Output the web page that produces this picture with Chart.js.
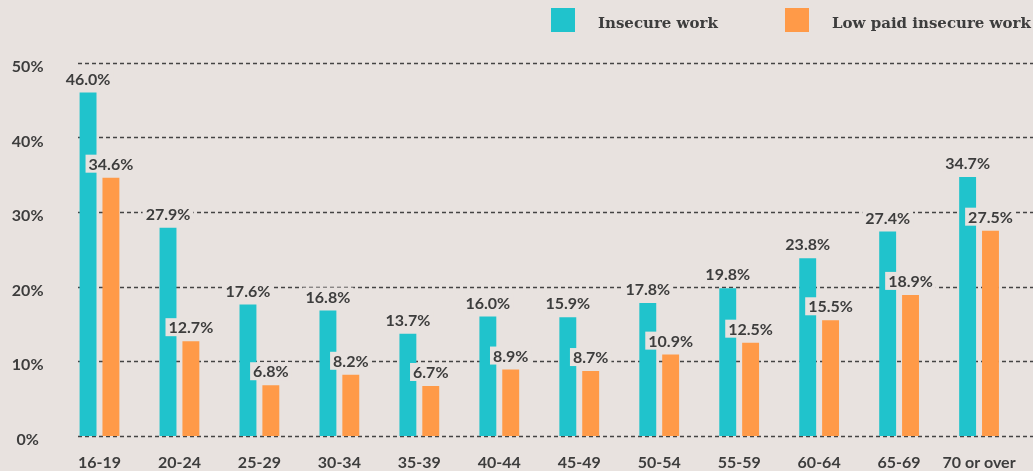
<!DOCTYPE html>
<html>
<head>
<meta charset="utf-8">
<script src="https://cdn.jsdelivr.net/npm/chart.js@4/dist/chart.umd.min.js"></script>
<style>
  html, body { margin: 0; padding: 0; background: #e8e2df; }
  #wrap { width: 1033px; height: 471px; position: relative; }
</style>
</head>
<body>
<div id="wrap"><canvas id="c" width="1033" height="471"></canvas></div>
<script>
const categories = ["16-19","20-24","25-29","30-34","35-39","40-44","45-49","50-54","55-59","60-64","65-69","70 or over"];
const insecureWork = [46.0, 27.9, 17.6, 16.8, 13.7, 16.0, 15.9, 17.8, 19.8, 23.8, 27.4, 34.7];
const lowPaidInsecureWork = [34.6, 12.7, 6.8, 8.2, 6.7, 8.9, 8.7, 10.9, 12.5, 15.5, 18.9, 27.5];
const yTicks = [0, 10, 20, 30, 40, 50];
const seriesNames = ["Insecure work", "Low paid insecure work"];
const seriesColors = ["#20c3cc", "#ff9a48"];

const BG = "#e8e2df";
const TEXT = "#3d3d3d";
const SANS = "Lato, 'Open Sans', sans-serif";
const SERIF = "'DejaVu Serif', serif";

function drawGrid(chart) {
  const ctx = chart.ctx;
  const y = chart.scales.y;
  ctx.save();
  ctx.strokeStyle = "#444444";
  ctx.lineWidth = 1.5;
  ctx.setLineDash([4, 3]);
  yTicks.forEach(v => {
    const py = Math.round(y.getPixelForValue(v)) + 0.5;
    ctx.beginPath();
    ctx.moveTo(78, py);
    ctx.lineTo(chart.width, py);
    ctx.stroke();
  });
  ctx.restore();
}

const overlay = {
  id: 'overlay',
  beforeDraw(chart) {
    const ctx = chart.ctx;
    ctx.save();
    ctx.fillStyle = BG;
    ctx.fillRect(0, 0, chart.width, chart.height);
    ctx.restore();
  },
  beforeDatasetDraw(chart, args) {
    // grid sits above the first series and below the second
    if (args.index === 1) drawGrid(chart);
  },
  afterDatasetsDraw(chart) {
    const ctx = chart.ctx;
    // value labels with background boxes
    ctx.save();
    ctx.font = "bold 16px " + SANS;
    ctx.textAlign = "center";
    ctx.textBaseline = "middle";
    chart.data.datasets.forEach((ds, di) => {
      const meta = chart.getDatasetMeta(di);
      meta.data.forEach((bar, i) => {
        const txt = ds.data[i].toFixed(1) + "%";
        const w = ctx.measureText(txt).width;
        const cx = bar.x;
        const cy = bar.y - 14;
        ctx.fillStyle = BG;
        ctx.fillRect(cx - w / 2 - 3, cy - 9, w + 6, 18);
        ctx.fillStyle = TEXT;
        ctx.fillText(txt, cx, cy + 1);
      });
    });
    ctx.restore();
    // legend
    ctx.save();
    const legendX = [551, 785];
    ctx.font = "bold 15px " + SERIF;
    ctx.textBaseline = "alphabetic";
    ctx.textAlign = "left";
    seriesNames.forEach((name, k) => {
      ctx.fillStyle = seriesColors[k];
      ctx.fillRect(legendX[k], 8, 24, 24);
      ctx.fillStyle = TEXT;
      ctx.fillText(name, legendX[k] + 47, 28);
    });
    ctx.restore();
  }
};

new Chart(document.getElementById('c'), {
  type: 'bar',
  data: {
    labels: categories,
    datasets: [
      { label: seriesNames[0], data: insecureWork, backgroundColor: seriesColors[0] },
      { label: seriesNames[1], data: lowPaidInsecureWork, backgroundColor: seriesColors[1] }
    ]
  },
  options: {
    responsive: false,
    animation: false,
    devicePixelRatio: 1,
    categoryPercentage: 0.572,
    barPercentage: 0.739,
    layout: { padding: { top: 62.7, right: 9, left: 0, bottom: 0 } },
    plugins: { legend: { display: false }, tooltip: { enabled: false }, title: { display: false } },
    scales: {
      x: {
        grid: { display: false, drawTicks: false },
        border: { display: false },
        ticks: { color: TEXT, font: { family: SANS, size: 16, weight: 'bold' }, padding: 17, maxRotation: 0, autoSkip: false },
        afterFit(s) { s.height = 35; }
      },
      y: {
        min: 0, max: 50,
        grid: { display: false, drawTicks: false },
        border: { display: false },
        ticks: {
          stepSize: 10, color: TEXT, crossAlign: 'center', labelOffset: 4, padding: 16,
          font: { family: SANS, size: 16, weight: 'bold' },
          callback: v => v + "%"
        },
        afterFit(s) { s.width = 59.5; }
      }
    }
  },
  plugins: [overlay]
});
</script>
</body>
</html>
